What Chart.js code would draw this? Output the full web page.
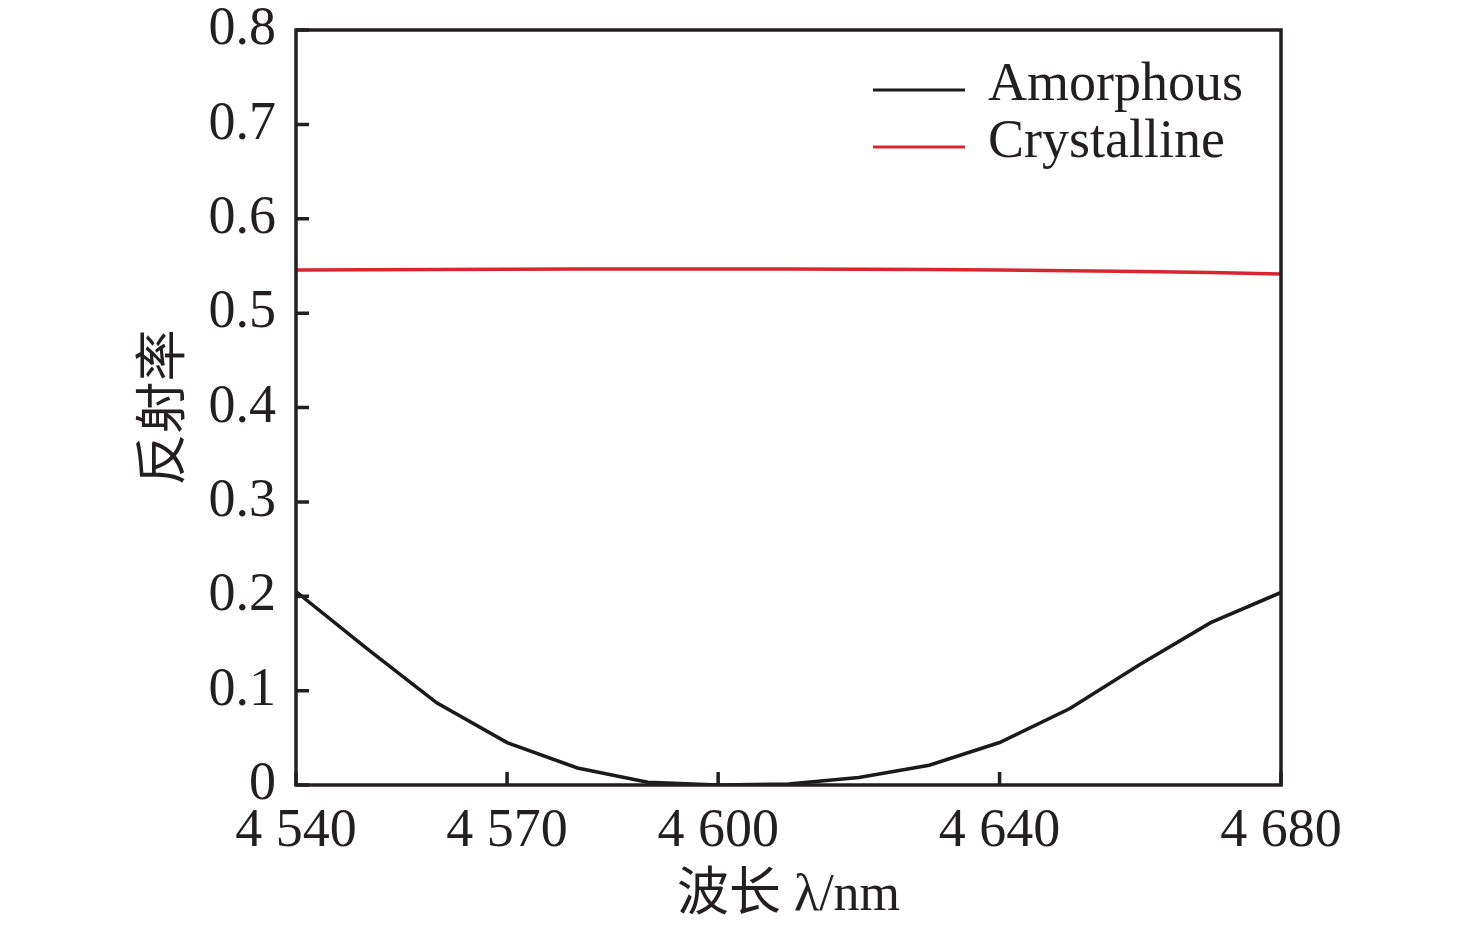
<!DOCTYPE html>
<html>
<head>
<meta charset="utf-8">
<script src="https://cdn.jsdelivr.net/npm/chart.js@4/dist/chart.umd.min.js"></script>
<style>
  html, body { margin: 0; padding: 0; background: #fff; }
  #wrap { width: 1476px; height: 930px; }
</style>
</head>
<body>
<div id="wrap"><canvas id="chart" width="1476" height="930"></canvas></div>
<script>
const wavelengths = [4540, 4550, 4560, 4570, 4580, 4590, 4600, 4610, 4620, 4630, 4640, 4650, 4660, 4670, 4680];
const amorphous = [0.205, 0.145, 0.087, 0.045, 0.018, 0.003, 0.0, 0.001, 0.008, 0.021, 0.045, 0.081, 0.128, 0.172, 0.204];
const crystalline = [0.5457, 0.546, 0.5463, 0.5465, 0.5467, 0.5468, 0.5468, 0.5467, 0.5465, 0.5462, 0.5456, 0.545, 0.544, 0.543, 0.5415];
const xTicks = [4540, 4570, 4600, 4640, 4680];
const yTicks = [0, 0.1, 0.2, 0.3, 0.4, 0.5, 0.6, 0.7, 0.8];

const serif = "'Liberation Serif', 'Times New Roman', 'Noto Sans CJK SC', serif";

function toPoints(vals) {
  return vals.map((v, i) => ({ x: wavelengths[i], y: v }));
}

// frame, inward ticks and the legend inside the plot
const framePlugin = {
  id: 'frame',
  afterDatasetsDraw(chart) {
    const ctx = chart.ctx;
    const { left, right, top, bottom } = chart.chartArea;
    const xs = chart.scales.x, ys = chart.scales.y;
    ctx.save();
    ctx.strokeStyle = '#231f20';
    ctx.lineWidth = 3.5;
    ctx.strokeRect(left, top, right - left, bottom - top);
    ctx.beginPath();
    ys.ticks.forEach(t => {
      const py = ys.getPixelForValue(t.value);
      ctx.moveTo(left, py);
      ctx.lineTo(left + 13, py);
    });
    xs.ticks.forEach(t => {
      const px = xs.getPixelForValue(t.value);
      ctx.moveTo(px, bottom);
      ctx.lineTo(px, bottom - 13);
    });
    ctx.stroke();

    // legend
    ctx.font = '54px ' + serif;
    ctx.textBaseline = 'alphabetic';
    ctx.fillStyle = '#231f20';
    chart.data.datasets.forEach((ds, i) => {
      const ly = top + 60 + i * 57;
      ctx.strokeStyle = ds.borderColor;
      ctx.lineWidth = 3;
      ctx.beginPath();
      ctx.moveTo(right - 408, ly);
      ctx.lineTo(right - 316, ly);
      ctx.stroke();
      ctx.fillText(ds.label, right - 293, ly + 10);
    });
    ctx.restore();
  }
};

new Chart(document.getElementById('chart'), {
  type: 'line',
  data: {
    datasets: [
      {
        label: 'Amorphous',
        data: toPoints(amorphous),
        borderColor: '#1a1a1a',
        borderWidth: 3.5,
        pointRadius: 0,
        tension: 0
      },
      {
        label: 'Crystalline',
        data: toPoints(crystalline),
        borderColor: '#d7262f',
        borderWidth: 3.5,
        pointRadius: 0,
        tension: 0
      }
    ]
  },
  options: {
    responsive: false,
    animation: false,
    layout: { padding: { left: 135, right: 195, top: 30, bottom: 0 } },
    plugins: {
      legend: { display: false },
      tooltip: { enabled: false }
    },
    scales: {
      x: {
        type: 'linear',
        min: 4540,
        max: 4680,
        afterBuildTicks: scale => { scale.ticks = xTicks.map(v => ({ value: v })); },
        afterFit: scale => { scale.height = 145; },
        grid: { display: false, drawTicks: false },
        border: { display: false },
        ticks: {
          color: '#231f20',
          font: { family: serif, size: 54 },
          padding: 14,
          maxRotation: 0,
          autoSkip: false,
          callback: v => String(v).replace(/^(\d)(\d{3})$/, '$1 $2')
        },
        title: {
          display: true,
          text: '波长 λ/nm',
          color: '#231f20',
          font: { family: serif, size: 52 },
          padding: { top: 0, bottom: 2 }
        }
      },
      y: {
        min: 0,
        max: 0.8,
        afterBuildTicks: scale => { scale.ticks = yTicks.map(v => ({ value: v })); },
        afterFit: scale => {
          scale.width = 161;
          scale.paddingTop = 0;
          scale.paddingBottom = 0;
        },
        grid: { display: false, drawTicks: false },
        border: { display: false },
        ticks: {
          color: '#231f20',
          font: { family: serif, size: 54 },
          padding: 20,
          callback: v => (v === 0 ? '0' : v.toFixed(1))
        },
        title: {
          display: true,
          text: '反射率',
          color: '#231f20',
          font: { family: serif, size: 52 },
          padding: 0
        }
      }
    }
  },
  plugins: [framePlugin]
});
</script>
</body>
</html>
